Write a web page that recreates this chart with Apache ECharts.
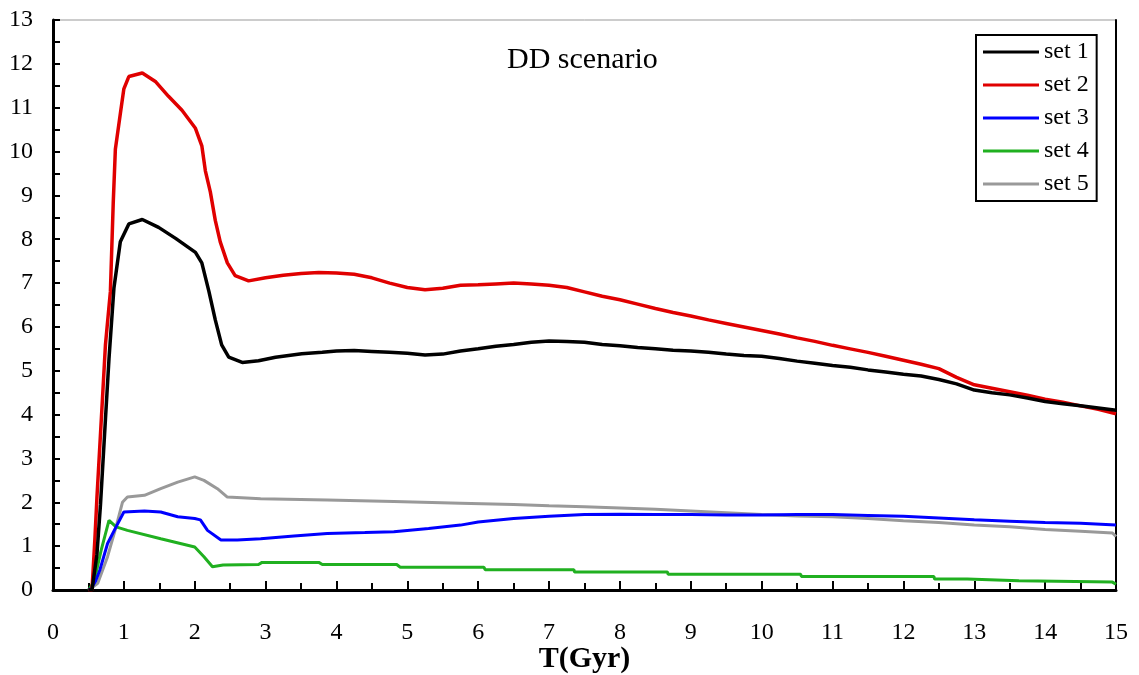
<!DOCTYPE html>
<html>
<head>
<meta charset="utf-8">
<script src="https://cdn.jsdelivr.net/npm/echarts@6/dist/echarts.min.js"></script>
<style>html,body{margin:0;padding:0;background:#fff;}#c{width:1139px;height:675px;}</style>
</head>
<body>
<div id="c"></div>
<script>
const set1T = [0.5,0.55,0.62,0.67,0.74,0.79,0.86,0.95,1.07,1.26,1.49,1.73,2.01,2.1,2.2,2.29,2.38,2.48,2.67,2.9,3.14,3.51,3.8,4.0,4.25,4.5,4.75,5.0,5.25,5.5,5.75,6.0,6.25,6.5,6.75,7.0,7.25,7.5,7.75,8.0,8.25,8.5,8.75,9.0,9.25,9.5,9.75,10.0,10.25,10.5,10.75,11.0,11.25,11.5,11.75,12.0,12.25,12.5,12.75,13.0,13.25,13.5,13.75,14.0,14.25,14.5,14.75,15.0];
const set1V = [0,0,0.81,1.94,3.89,5.27,6.89,7.94,8.35,8.45,8.27,8.02,7.70,7.46,6.81,6.16,5.59,5.31,5.19,5.23,5.31,5.39,5.42,5.45,5.46,5.44,5.42,5.40,5.36,5.38,5.45,5.5,5.56,5.6,5.65,5.68,5.67,5.65,5.6,5.57,5.53,5.5,5.47,5.45,5.42,5.38,5.35,5.33,5.28,5.22,5.17,5.12,5.08,5.02,4.97,4.92,4.88,4.8,4.7,4.56,4.5,4.45,4.38,4.3,4.25,4.2,4.15,4.1];

const set2T = [0.5,0.55,0.59,0.62,0.69,0.74,0.81,0.85,0.88,0.95,1.0,1.07,1.26,1.45,1.63,1.82,2.01,2.1,2.15,2.22,2.29,2.36,2.46,2.57,2.76,3.0,3.25,3.5,3.75,4.0,4.25,4.5,4.75,5.0,5.25,5.5,5.75,6.0,6.25,6.5,6.75,7.0,7.25,7.5,7.75,8.0,8.25,8.5,8.75,9.0,9.25,9.5,9.75,10.0,10.25,10.5,10.75,11.0,11.25,11.5,11.75,12.0,12.25,12.5,12.75,13.0,13.25,13.5,13.75,14.0,14.25,14.5,14.75,15.0];
const set2V = [0,0,1.13,2.11,4.13,5.59,6.81,8.83,10.05,10.86,11.43,11.71,11.79,11.59,11.26,10.94,10.53,10.13,9.56,9.08,8.43,7.94,7.46,7.17,7.05,7.12,7.18,7.22,7.24,7.23,7.2,7.12,7.0,6.9,6.85,6.88,6.95,6.96,6.98,7.0,6.98,6.95,6.9,6.8,6.7,6.62,6.52,6.42,6.33,6.25,6.16,6.08,6.0,5.92,5.84,5.75,5.67,5.58,5.5,5.42,5.33,5.24,5.15,5.05,4.85,4.68,4.6,4.52,4.44,4.35,4.28,4.2,4.12,4.02];

const set3T = [0.5,0.54,0.6,0.66,0.77,0.89,1.0,1.29,1.52,1.76,2.0,2.08,2.18,2.37,2.6,2.93,3.4,3.87,4.4,4.81,5.3,5.75,6.0,6.5,7.0,7.5,8.0,8.5,9.0,9.5,10.0,10.5,11.0,11.5,12.0,12.5,13.0,13.5,14.0,14.5,15.0];
const set3V = [0,0.04,0.2,0.45,1.06,1.44,1.78,1.8,1.78,1.67,1.63,1.6,1.36,1.14,1.14,1.17,1.23,1.29,1.31,1.33,1.4,1.48,1.55,1.63,1.68,1.72,1.73,1.72,1.72,1.71,1.71,1.72,1.72,1.7,1.68,1.64,1.6,1.57,1.54,1.52,1.48];

const set4T = [0.5,0.51,0.58,0.68,0.79,0.89,1.05,1.52,2.0,2.13,2.25,2.4,2.9,2.95,3.75,3.8,4.85,4.9,6.08,6.1,7.35,7.36,8.67,8.68,10.55,10.56,12.43,12.44,12.9,12.91,13.63,13.64,14.95,15.0];
const set4V = [0,0.04,0.19,0.91,1.59,1.44,1.36,1.17,0.98,0.76,0.53,0.57,0.58,0.63,0.63,0.58,0.58,0.52,0.52,0.46,0.46,0.41,0.41,0.36,0.36,0.31,0.31,0.25,0.25,0.21,0.21,0.18,0.18,0.13];

const set5T = [0.5,0.54,0.63,0.77,0.89,0.98,1.05,1.29,1.52,1.76,2.0,2.13,2.32,2.46,2.93,3.87,4.81,5.75,6.5,7.0,7.5,8.0,8.5,9.0,9.5,10.0,10.5,11.0,11.5,12.0,12.5,13.0,13.5,14.0,14.5,14.95,15.0];
const set5V = [0,0.04,0.15,0.76,1.44,2.0,2.12,2.16,2.31,2.46,2.58,2.5,2.31,2.12,2.08,2.05,2.02,1.98,1.95,1.92,1.9,1.87,1.84,1.8,1.76,1.72,1.69,1.67,1.63,1.58,1.54,1.48,1.44,1.38,1.34,1.3,1.22];

const seriesNames = ['set 1','set 2','set 3','set 4','set 5'];
const seriesColors = ['#000000','#e00000','#0000ff','#20b020','#999999'];
const seriesWidths = [3.5, 3.5, 3, 3, 3];
const xTicks = {min:0, max:15, interval:1};
const yTicks = {min:0, max:13, interval:1};
const titleText = 'DD scenario';
const xName = 'T(Gyr)';

const zip = (t, v) => t.map((x, i) => [x, v[i]]);
const allData = [zip(set1T,set1V), zip(set2T,set2V), zip(set3T,set3V), zip(set4T,set4V), zip(set5T,set5V)];
const font = '"Liberation Serif", "Times New Roman", serif';

const chart = echarts.init(document.getElementById('c'), null, {renderer:'canvas'});
chart.setOption({
  animation: false,
  backgroundColor: '#fff',
  title: {
    text: titleText, left: 502, top: 40,
    textStyle: {fontFamily: font, fontSize: 30, fontWeight: 'normal', color: '#000'}
  },
  legend: {
    orient: 'vertical', left: 976, top: 35,
    data: seriesNames,
    icon: 'rect', itemWidth: 56, itemHeight: 3, itemGap: 9,
    padding: [5, 8, 5, 7],
    borderColor: '#000', borderWidth: 2,
    textStyle: {fontFamily: font, fontSize: 24, color: '#000'}
  },
  grid: {left: 53, right: 23, top: 20, bottom: 85, show: true, borderColor: '#999', borderWidth: 1,
         containLabel: false, outerBoundsMode: 'none'},
  xAxis: {
    type: 'value', min: xTicks.min, max: xTicks.max, interval: xTicks.interval,
    name: xName, nameLocation: 'middle', nameGap: 54, nameMoveOverlap: false,
    nameTextStyle: {fontFamily: font, fontSize: 30, fontWeight: 'bold', color: '#000', verticalAlign: 'top'},
    axisLine: {onZero: false, lineStyle: {color: '#000', width: 3}},
    axisTick: {inside: true, length: 9, lineStyle: {color: '#000', width: 2}},
    minorTick: {show: true, splitNumber: 2, length: 7, lineStyle: {color: '#000', width: 2}},
    axisLabel: {margin: 31, fontFamily: font, fontSize: 24, color: '#000'},
    splitLine: {show: false}
  },
  yAxis: [{
    type: 'value', min: yTicks.min, max: yTicks.max, interval: yTicks.interval,
    axisLine: {show: true, onZero: false, lineStyle: {color: '#000', width: 3}},
    axisTick: {inside: true, length: 7, lineStyle: {color: '#000', width: 2}},
    minorTick: {show: true, splitNumber: 2, length: 7, lineStyle: {color: '#000', width: 2}},
    axisLabel: {margin: 20, fontFamily: font, fontSize: 24, color: '#000'},
    splitLine: {show: false}
  }, {
    type: 'value', min: yTicks.min, max: yTicks.max, interval: yTicks.interval, position: 'right',
    axisLine: {show: true, onZero: false, lineStyle: {color: '#000', width: 2}},
    axisTick: {show: false}, axisLabel: {show: false}, splitLine: {show: false}
  }],
  series: allData.map((d, i) => ({
    name: seriesNames[i], type: 'line', data: d, showSymbol: false, symbol: 'none',
    lineStyle: {color: seriesColors[i], width: seriesWidths[i]}, itemStyle: {color: seriesColors[i]},
    z: 10 - i
  }))
});
</script>
</body>
</html>
